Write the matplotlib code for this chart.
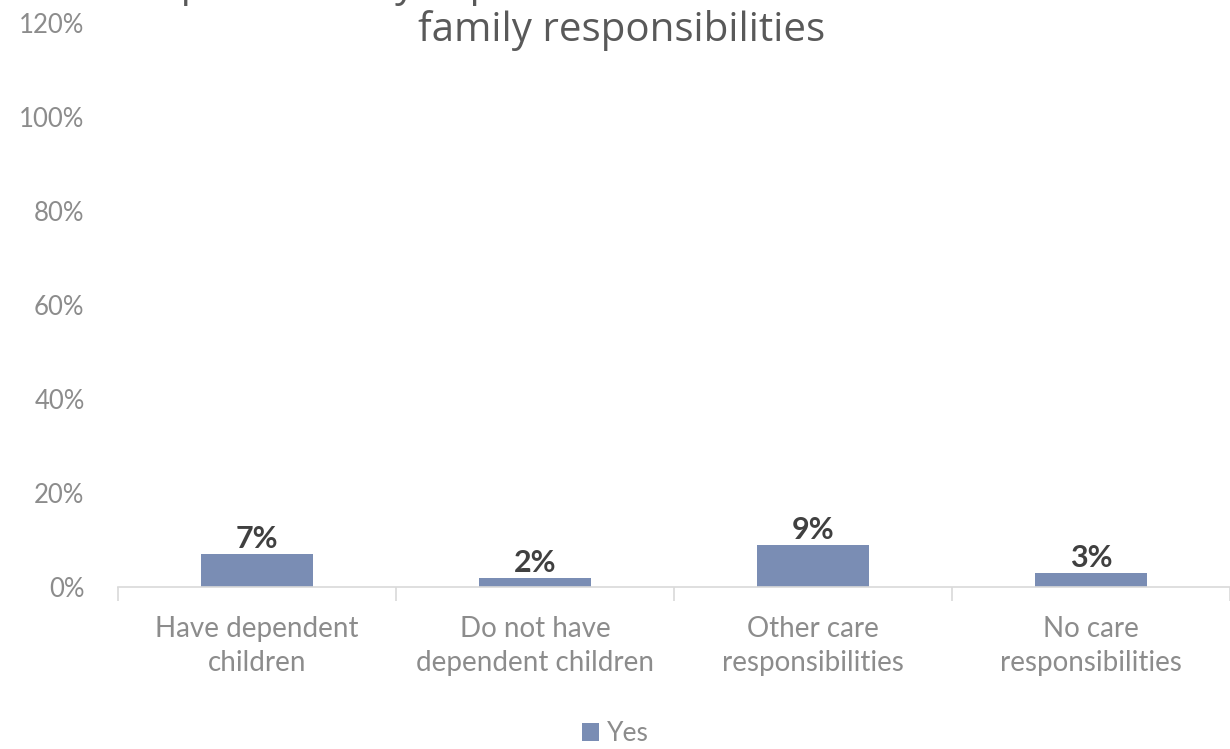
import matplotlib.pyplot as plt
from matplotlib.ticker import PercentFormatter

categories = ["Have dependent\nchildren", "Do not have\ndependent children",
              "Other care\nresponsibilities", "No care\nresponsibilities"]
yes_values = [0.07, 0.02, 0.09, 0.03]
yes_labels = ["7%", "2%", "9%", "3%"]
title_lines = ["Respondents by experience of sexual harassment and",
               "family responsibilities"]

bar_color = "#7A8DB4"
grey = "#8C8C8C"

fig = plt.figure(figsize=(12.3, 7.49), dpi=100)
ax = fig.add_axes([0.0959, 0.2163, 0.9041, 0.753])

x = range(len(categories))
bars = ax.bar(x, yes_values, width=0.4, color=bar_color, label="Yes")
for b, lab in zip(bars, yes_labels):
    ax.text(b.get_x() + b.get_width() / 2, b.get_height() + 0.002, lab,
            ha="center", va="bottom", fontsize=22, fontweight="bold",
            color="#404040", family="Lato")

ax.set_xlim(-0.5, len(categories) - 0.5)
ax.set_ylim(0, 1.2)
ax.set_yticks([0, 0.2, 0.4, 0.6, 0.8, 1.0, 1.2])
ax.yaxis.set_major_formatter(PercentFormatter(1.0, decimals=0))

for s in ["top", "right", "left"]:
    ax.spines[s].set_visible(False)
ax.spines["bottom"].set_color("#D9D9D9")
ax.spines["bottom"].set_linewidth(1.2)

# category labels centred, tick marks at the boundaries
ax.set_xticks(list(x))
ax.set_xticklabels(categories, fontsize=20, color=grey, family="Lato",
                   linespacing=1.35)
ax.tick_params(axis="x", length=0, pad=21)
ax.set_xticks([i - 0.5 for i in range(len(categories) + 1)], minor=True)
ax.tick_params(axis="x", which="minor", length=10, color="#D9D9D9", width=1.2)
ax.tick_params(axis="y", length=0, pad=24, labelsize=18.5, labelcolor=grey)
for t in ax.get_yticklabels():
    t.set_family("Lato")

# first title line sits above the canvas, as in the source (only descenders show)
fig.text(0.505, 1.006, title_lines[0], ha="center", va="baseline",
         fontsize=29, color="#595959", family="Open Sans")
fig.text(0.505, 0.945, title_lines[1], ha="center", va="baseline",
         fontsize=29, color="#595959", family="Open Sans")

leg = fig.legend(loc="lower center", bbox_to_anchor=(0.5, -0.028), frameon=False,
                 fontsize=19, handlelength=0.65, handleheight=0.65, handletextpad=0.3)
for t in leg.get_texts():
    t.set_color(grey)
    t.set_family("Lato")

fig.savefig("out.png", dpi=100)
